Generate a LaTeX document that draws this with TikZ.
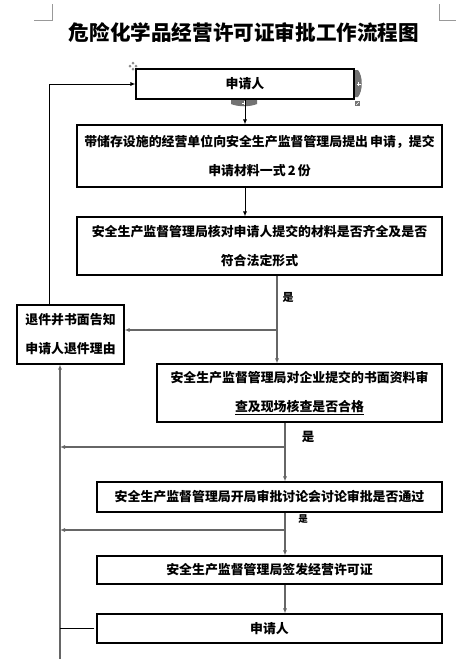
\documentclass[tikz,border=0pt]{standalone}
\usepackage{fontspec}
\newfontfamily\cjk{Noto Sans CJK SC}
\usetikzlibrary{arrows.meta}
\begin{document}
\begin{tikzpicture}[x=1pt,y=-1pt,
  box/.style={draw=black,line width=1.1pt,inner sep=0pt,align=center,font=\cjk\bfseries\fontsize{12.9}{29}\selectfont},
  blk/.style={draw=black,line width=0.9pt},
  gry/.style={draw=black!60,line width=1.4pt},
  tip/.style={-{Latex[length=5pt,width=4pt]}},
  lbl/.style={font=\cjk\bfseries\fontsize{11}{13}\selectfont,inner sep=0pt},
  ui/.style={fill=black!55,draw=none}]
\useasboundingbox (0,0) rectangle (458,667);
% page corner marks
\draw[black!40,line width=0.8pt] (34,20) -- (52,20) -- (52,4);
\draw[black!40,line width=0.8pt] (439,4) -- (439,20) -- (456,20);
% title
\node[font=\cjk\bfseries\fontsize{20.6}{24}\selectfont,inner sep=0pt] (title) at (244,33) {危险化学品经营许可证审批工作流程图};
% boxes
\node[box,minimum width=218,minimum height=30] (n1) at (245,84) {申请人};
\node[box,minimum width=365,minimum height=62] (n2) at (259.5,156) {带储存设施的经营单位向安全生产监督管理局提出\,申请，提交\\申请材料一式\,2\,份};
\node[box,minimum width=365,minimum height=58] (n3) at (259.5,246) {安全生产监督管理局核对申请人提交的材料是否齐全及是否\\符合法定形式};
\node[box,minimum width=107,minimum height=59] (ret) at (70.5,334.5) {退件并书面告知\\申请人退件理由};
\node[box,minimum width=285,minimum height=58] (n4) at (299.5,393) {安全生产监督管理局对企业提交的书面资料审\\\underline{查及现场核查是否合格}};
\node[box,minimum width=345,minimum height=30] (n5) at (269.5,497) {安全生产监督管理局开局审批讨论会讨论审批是否通过};
\node[box,minimum width=345,minimum height=28] (n6) at (269.5,570) {安全生产监督管理局签发经营许可证};
\node[box,minimum width=345,minimum height=29] (n7) at (269.5,628.5) {申请人};
% word UI handles around first box
\path[ui] (355,70) -- (358,70) .. controls (363,76) and (363,91) .. (358,97) -- (355,97) -- cycle;
\draw[white,line width=0.8pt] (356.5,84) -- (360.5,84) (358.5,82) -- (358.5,86);
\path[ui] (231,100) -- (257,100) -- (257,104) .. controls (250,107) and (238,107) .. (231,104) -- cycle;
\draw[white,line width=0.8pt] (242,103) -- (246,103) (244,101) -- (244,105);
\path[ui] (355,101) -- (360,101) -- (360,106) -- (355,106) -- cycle;
\draw[white,line width=0.6pt] (356,105) -- (359,102);
\foreach \dx/\dy in {0/-3,0/3,-3/0,3/0}{\path[fill=black!45] (133+\dx,66+\dy) +(0,-1.5) -- +(1.5,0) -- +(0,1.5) -- +(-1.5,0) -- cycle;}
% coordinates
\coordinate (lt) at (49,0);
\coordinate (j1) at (277,330);
\coordinate (j2) at (285,447);
\coordinate (j3) at (285,530);
\coordinate (vb) at (60,659);
% top connectors
\draw[blk,tip] (n1.south) -- (n1.south |- n2.north);
\draw[blk,tip] (n1.south |- n2.south) -- (n1.south |- n3.north);
\draw[blk,tip] (lt |- ret.north) -- (lt |- n1.west) -- (n1.west);
% decision 1
\draw[gry] (n3.south -| j1) -- (j1);
\draw[gry,tip] (j1) -- (j1 |- n4.north);
\draw[gry,tip] (j1) -- (j1 -| ret.east);
\node[lbl] (y1) at (288,297) {是};
% decision 2
\draw[gry] (n4.south -| j2) -- (j2);
\draw[gry,tip] (j2) -- (j2 |- n5.north);
\draw[gry,tip] (j2) -- (j2 -| vb);
\node[lbl,font=\cjk\bfseries\fontsize{12.5}{13}\selectfont] (y2) at (308,437) {是};
% decision 3
\draw[gry] (n5.south -| j3) -- (j3);
\draw[gry,tip] (j3) -- (j3 |- n6.north);
\draw[gry,tip] (j3) -- (j3 -| vb);
\node[lbl,font=\cjk\bfseries\fontsize{9.5}{11}\selectfont] (y3) at (303,519) {是};
% issue -> applicant
\draw[gry,tip] (n6.south -| j3) -- (n7.north -| j3);
% return column
\draw[gry,tip] (vb) -- (vb |- ret.south);
\draw[blk] ([xshift=-2pt]n7.west) -- (vb |- n7.west);
\end{tikzpicture}
\end{document}
